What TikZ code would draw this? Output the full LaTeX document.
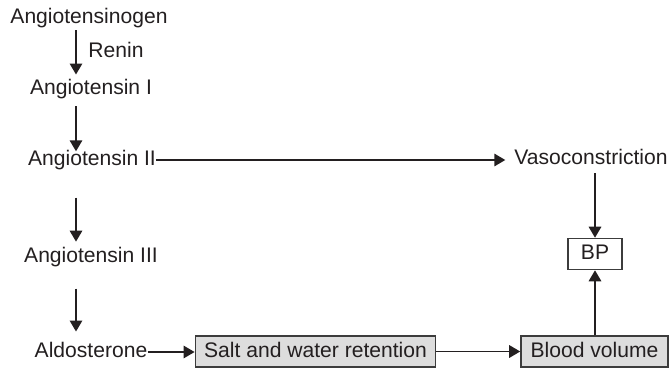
\documentclass[tikz,border=0pt]{standalone}
\usepackage{fontspec}
\setmainfont{Liberation Sans}
\usetikzlibrary{arrows.meta,positioning}
\definecolor{ink}{RGB}{35,31,32}
\definecolor{edge}{RGB}{60,60,60}
\definecolor{shade}{RGB}{221,221,221}
\tikzset{
  >={Triangle[length=2.2mm,width=2.5mm]},
  tag/.style={inner sep=0pt,text height=9pt,text depth=2.5pt,
    font=\fontsize{12}{14}\selectfont,text=ink},
  box/.style={tag,draw=edge,fill=#1,line width=0.9pt,inner xsep=5pt,inner ysep=3pt,
    minimum height=0.62cm},
  box/.default=shade,
  flow/.style={->,line width=0.9pt,draw=ink},
}
\begin{document}
\begin{tikzpicture}[x=0.02cm,y=-0.02cm]
        \useasboundingbox (0,0) rectangle (670,369);
        \coordinate (col) at (76,0);
        % cascade on the left
        \node[tag] (agen) at (89,18) {Angiotensinogen};
        \node[tag] (renin) at (116,52) {Renin};
        \node[tag] (ang1) at (91,89) {Angiotensin I};
        \node[tag] (ang2) at (92,160) {Angiotensin II};
        \node[tag] (ang3) at (91,257) {Angiotensin III};
        \node[tag] (aldo) at (91,352) {Aldosterone};
        % effects
        \node[tag] (vaso) at (591,159) {Vasoconstriction};
        \node[box=white,minimum width=1.08cm] (bp) at (595,254) {BP};
        \node[box,minimum width=4.78cm] (salt) at (315.5,351.5) {Salt and water retention};
        \node[box,minimum width=2.94cm] (blood) at (594.5,351.5) {Blood volume};
        \draw[flow,shorten <=1pt,shorten >=2.3pt] (agen.south -| col) -- (ang1.north -| col);
        \draw[flow,shorten <=4pt,shorten >=-1pt] (ang1.south -| col) -- (ang2.north -| col);
        \draw[flow,shorten <=15.4pt,shorten >=2.8pt] (ang2.south -| col) -- (ang3.north -| col);
        \draw[flow,shorten <=12pt,shorten >=5.7pt] (ang3.south -| col) -- (aldo.north -| col);
        \draw[flow,shorten >=5pt] (ang2.east) -- (vaso.west |- ang2.east);
        \draw[flow,shorten <=2.3pt] (vaso.south -| bp) -- (bp.north);
        \draw[flow] (aldo.east) -- (salt.west |- aldo.east);
        \draw[flow] (salt.east) -- (blood.west);
        \draw[flow] (blood.north -| bp) -- (bp.south);
      \end{tikzpicture}
\end{document}
